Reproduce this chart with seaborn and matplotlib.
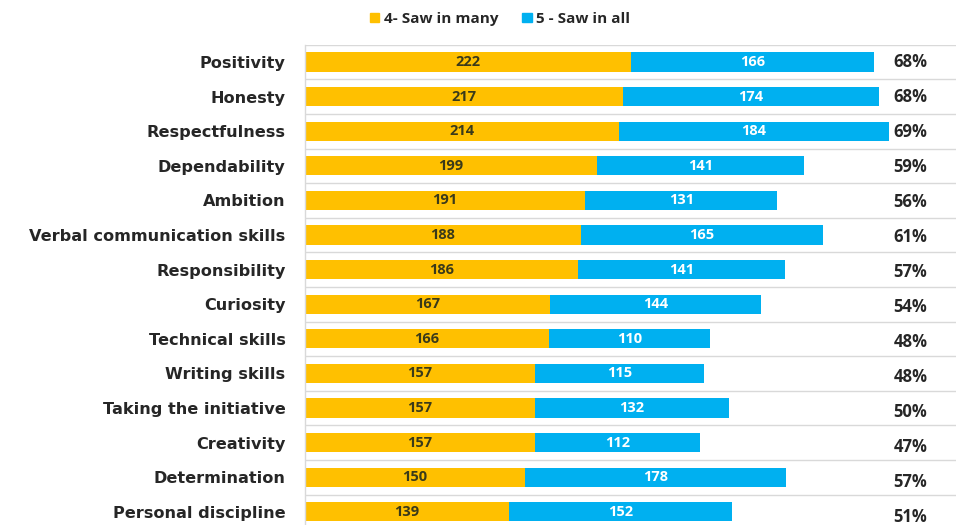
import matplotlib
matplotlib.use("Agg")
import matplotlib.pyplot as plt
import seaborn as sns
import pandas as pd
import numpy as np

categories = [
    "Positivity", "Honesty", "Respectfulness", "Dependability", "Ambition",
    "Verbal communication skills", "Responsibility", "Curiosity",
    "Technical skills", "Writing skills", "Taking the initiative",
    "Creativity", "Determination", "Personal discipline",
]
saw_in_many = [222, 217, 214, 199, 191, 188, 186, 167, 166, 157, 157, 157, 150, 139]
saw_in_all = [166, 174, 184, 141, 131, 165, 141, 144, 110, 115, 132, 112, 178, 152]
pct_labels = ["68%", "68%", "69%", "59%", "56%", "61%", "57%", "54%",
              "48%", "48%", "50%", "47%", "57%", "51%"]

ORANGE = "#FFC000"
BLUE = "#00B0F0"
TEXT = "#262626"

sns.set_theme(style="white")
plt.rcParams["font.family"] = ["Open Sans", "DejaVu Sans"]

df = pd.DataFrame({
    "category": categories,
    "many": saw_in_many,
    "all": saw_in_all,
})
df["total"] = df["many"] + df["all"]

W, H = 956, 525
fig = plt.figure(figsize=(W / 100, H / 100), dpi=100)
# axes spans from the category column to the right edge; bottom row runs past the canvas
px_left, px_right = 305, 956
px_top, px_bottom = 44.7, 529.1
ax = fig.add_axes([px_left / W, 1 - px_bottom / H,
                   (px_right - px_left) / W, (px_bottom - px_top) / H])

sns.barplot(data=df, x="total", y="category", color=BLUE, width=0.55,
            orient="h", ax=ax, saturation=1, edgecolor="none")
sns.barplot(data=df, x="many", y="category", color=ORANGE, width=0.55,
            orient="h", ax=ax, saturation=1, edgecolor="none")

ax.set_xlim(0, (px_right - px_left) / 1.467)
ax.set_ylim(len(categories) - 0.5, -0.5)
ax.set_xlabel("")
ax.set_ylabel("")
ax.set_xticks([])
ax.set_yticks(range(len(categories)))
ax.set_yticklabels(categories)
ax.tick_params(axis="y", length=0, pad=14)
for lbl in ax.get_yticklabels():
    lbl.set_fontfamily(["DejaVu Sans"])
    lbl.set_fontsize(11.6)
    lbl.set_fontweight("bold")
    lbl.set_color(TEXT)

for s in ["top", "right", "bottom"]:
    ax.spines[s].set_visible(False)
ax.spines["left"].set_color("#d9d9d9")
ax.spines["left"].set_linewidth(1)

# separator lines between rows
for y in np.arange(-0.5, len(categories), 1.0):
    ax.axhline(y, color="#d9d9d9", linewidth=1, zorder=0)

for i, (m, a, p) in enumerate(zip(saw_in_many, saw_in_all, pct_labels)):
    ax.text(m / 2, i, str(m), ha="center", va="center", fontsize=10.5,
            fontweight="bold", color="#3a3a1a")
    ax.text(m + a / 2, i, str(a), ha="center", va="center", fontsize=10.5,
            fontweight="bold", color="white")
    ax.text(401, i + i * 0.012, p, ha="left", va="center", fontsize=12,
            fontweight="bold", color=TEXT)

# legend
handles = [
    plt.Rectangle((0, 0), 1, 1, color=ORANGE),
    plt.Rectangle((0, 0), 1, 1, color=BLUE),
]
leg = fig.legend(handles, ["4- Saw in many", "5 - Saw in all"],
                 loc="center", bbox_to_anchor=(500 / W, 1 - 19 / H),
                 ncol=2, frameon=False, handlelength=0.6, handleheight=0.6,
                 handletextpad=0.3, columnspacing=1.6,
                 prop={"size": 11, "weight": "bold"})
for t in leg.get_texts():
    t.set_color(TEXT)

fig.savefig("out.png", dpi=100)
